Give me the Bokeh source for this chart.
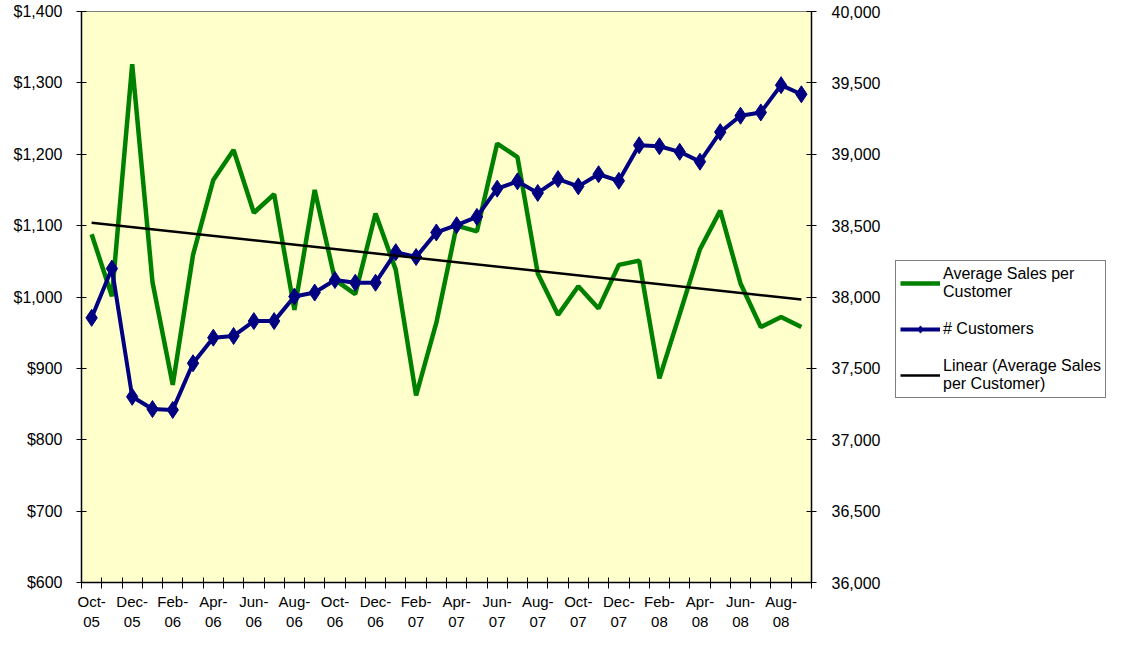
import numpy as np
from bokeh.plotting import figure
from bokeh.layouts import row
from bokeh.models import (Range1d, LinearAxis, FixedTicker, NumeralTickFormatter,
                          Legend, LegendItem, ColumnDataSource)
from bokeh.embed import file_html
from bokeh.resources import INLINE

# ---------------- data ----------------
months = ["Oct-05", "Nov-05", "Dec-05", "Jan-06", "Feb-06", "Mar-06", "Apr-06", "May-06",
          "Jun-06", "Jul-06", "Aug-06", "Sep-06", "Oct-06", "Nov-06", "Dec-06", "Jan-07",
          "Feb-07", "Mar-07", "Apr-07", "May-07", "Jun-07", "Jul-07", "Aug-07", "Sep-07",
          "Oct-07", "Nov-07", "Dec-07", "Jan-08", "Feb-08", "Mar-08", "Apr-08", "May-08",
          "Jun-08", "Jul-08", "Aug-08", "Sep-08"]

avg_sales = [1088, 1001, 1326, 1021, 877, 1059, 1164, 1206, 1118, 1144, 982, 1150,
             1024, 1004, 1117, 1038, 862, 964, 1100, 1092, 1215, 1196, 1033, 975,
             1015, 984, 1045, 1051, 886, 976, 1067, 1121, 1019, 958, 972, 958]

customers = [37854, 38199, 37301, 37215, 37209, 37536, 37715, 37727, 37831, 37831, 38003, 38031,
             38119, 38100, 38100, 38314, 38280, 38452, 38503, 38561, 38759, 38810, 38729, 38826,
             38775, 38860, 38814, 39063, 39056, 39017, 38948, 39155, 39270, 39293, 39484, 39420]

left_ticks = [600, 700, 800, 900, 1000, 1100, 1200, 1300, 1400]
right_ticks = [36000, 36500, 37000, 37500, 38000, 38500, 39000, 39500, 40000]

FONT = "Liberation Sans"

# ---------------- derived ----------------
n = len(months)
xs = [i + 0.5 for i in range(n)]
coef = np.polyfit(xs, avg_sales, 1)
trend_x = [xs[0], xs[-1]]
trend_y = [float(coef[0] * x + coef[1]) for x in trend_x]

src = ColumnDataSource(dict(x=xs, sales=avg_sales, cust=customers))
tsrc = ColumnDataSource(dict(x=trend_x, y=trend_y))

GREEN, NAVY = "#008000", "#000080"

p = figure(width=889, height=632, output_backend="svg", toolbar_location=None,
           x_range=Range1d(0, n), y_range=Range1d(600, 1400),
           min_border_left=81, min_border_right=78, min_border_top=11, min_border_bottom=48,
           background_fill_color="#FFFFCC", border_fill_color="white",
           outline_line_color="#808080", outline_line_width=1)
p.grid.visible = False
p.extra_y_ranges = {"cust": Range1d(36000, 40000)}

# x axis
xa = p.xaxis[0]
label_pos = [xs[i] for i in range(0, n, 2)]
xa.ticker = FixedTicker(ticks=label_pos, minor_ticks=list(range(0, n + 1)))
xa.major_label_overrides = {xs[i]: months[i].replace("-", "-\n") for i in range(0, n, 2)}
xa.major_tick_in = 0
xa.major_tick_out = 0
xa.minor_tick_in = 5
xa.minor_tick_out = 6
xa.minor_tick_line_color = "black"
xa.axis_line_color = "black"
xa.axis_line_width = 1.5
xa.major_label_standoff = 4
xa.major_label_text_font = FONT
xa.major_label_text_font_size = "15px"
xa.major_label_text_color = "black"

# left axis
ya = p.yaxis[0]
ya.ticker = FixedTicker(ticks=left_ticks)
ya.formatter = NumeralTickFormatter(format="$0,0")
ya.major_tick_in = 5
ya.major_tick_out = 5
ya.minor_tick_line_color = None
ya.axis_line_color = "black"
ya.axis_line_width = 1.5
ya.major_label_standoff = 14
ya.major_label_text_font = FONT
ya.major_label_text_font_size = "16px"
ya.major_label_text_color = "black"

# right axis
ra = LinearAxis(y_range_name="cust", ticker=FixedTicker(ticks=right_ticks),
                formatter=NumeralTickFormatter(format="0,0"))
ra.major_tick_in = 5
ra.major_tick_out = 5
ra.minor_tick_line_color = None
ra.axis_line_color = "black"
ra.axis_line_width = 1.5
ra.major_label_standoff = 15
ra.major_label_text_font = FONT
ra.major_label_text_font_size = "16px"
ra.major_label_text_color = "black"
p.add_layout(ra, "right")

# series
p.line("x", "sales", source=src, line_color=GREEN, line_width=4.5)
p.line("x", "cust", source=src, y_range_name="cust", line_color=NAVY, line_width=4)
p.scatter("x", "cust", source=src, y_range_name="cust", marker="diamond", size=17,
          fill_color=NAVY, line_color=NAVY)
p.line("x", "y", source=tsrc, line_color="black", line_width=2.5)

# ---------------- legend panel (separate figure, legend-only renderers) ----------------
lf = figure(width=217, height=632, output_backend="svg", toolbar_location=None,
            x_axis_location=None, y_axis_location=None,
            min_border_left=0, min_border_right=0, min_border_top=0, min_border_bottom=0,
            background_fill_color="white", border_fill_color="white", outline_line_color=None)
lf.grid.visible = False
lg = lf.line("x", "sales", source=src, line_color=GREEN, line_width=4.5, visible=False)
lb = lf.line("x", "cust", source=src, line_color=NAVY, line_width=4, visible=False)
lm = lf.scatter("x", "cust", source=src, marker="diamond", size=10,
                fill_color=NAVY, line_color=NAVY, visible=False)
lt = lf.line("x", "y", source=tsrc, line_color="black", line_width=2.5, visible=False)

legend = Legend(items=[
    LegendItem(label="Average Sales per\nCustomer", renderers=[lg]),
    LegendItem(label="# Customers", renderers=[lb, lm]),
    LegendItem(label="Linear (Average Sales\nper Customer)", renderers=[lt]),
], location=(6, 184))
legend.label_text_font = FONT
legend.label_text_font_size = "16px"
legend.label_text_line_height = 1.3
legend.label_text_color = "black"
legend.glyph_width = 40
legend.glyph_height = 18
legend.spacing = 19
legend.padding = 4
legend.margin = 0
legend.label_standoff = 3
legend.border_line_color = "black"
legend.border_line_width = 1
legend.background_fill_color = "white"
legend.background_fill_alpha = 1
legend.inactive_fill_alpha = 0
legend.click_policy = "none"
lf.add_layout(legend)

layout = row(p, lf, spacing=0)
open("out.html", "w").write(file_html(layout, INLINE))
